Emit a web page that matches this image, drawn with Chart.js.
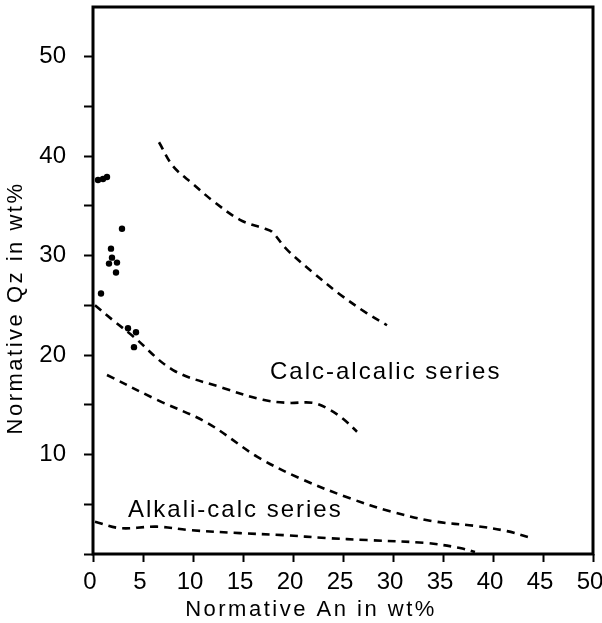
<!DOCTYPE html>
<html>
<head>
<meta charset="utf-8">
<script src="https://cdn.jsdelivr.net/npm/chart.js@4/dist/chart.umd.min.js"></script>
<style>
    body { margin: 0; background: #fff; }
    canvas { display: block; }
</style>
</head>
<body>
<canvas id="qzAnChart" width="602" height="623"></canvas>
<script>
// 시료 분석값 (Normative An, Normative Qz)
const sampleAn = [0.5, 1.0, 1.4, 2.9, 1.8, 1.9, 1.6, 2.4, 2.3, 0.8, 3.5, 4.3, 4.1];
const sampleQz = [37.6, 37.7, 37.9, 32.7, 30.7, 29.8, 29.2, 29.3, 28.3, 26.2, 22.7, 22.3, 20.8];

// Calc-alcalic 상한선
const calcUpperAn = [6.6, 8.0, 10.0, 12.0, 14.7, 17.2, 17.9, 19.4, 22.0, 24.7, 27.4, 29.4];
const calcUpperQz = [41.4, 39.0, 37.2, 35.5, 33.6, 32.7, 32.4, 30.6, 28.3, 26.1, 24.2, 23.0];

// Calc-alcalic 하한선
const calcLowerAn = [0.2, 2.0, 4.0, 8.0, 13.0, 17.0, 19.5, 22.0, 23.5, 25.0, 26.4];
const calcLowerQz = [25.0, 23.5, 21.9, 18.5, 16.7, 15.5, 15.2, 15.2, 14.6, 13.6, 12.3];

// Alkali-calc 상한선
const alkUpperAn = [1.4, 6.4, 11.4, 16.4, 20.7, 25.7, 29.7, 34.0, 38.4, 41.4, 43.9];
const alkUpperQz = [18.0, 15.5, 13.2, 9.8, 7.6, 5.6, 4.3, 3.3, 2.8, 2.3, 1.6];

// Alkali-calc 하한선
const alkLowerAn = [0.2, 2.7, 6.4, 9.7, 14.7, 19.0, 23.4, 27.4, 33.4, 36.7, 38.2];
const alkLowerQz = [3.25, 2.6, 2.75, 2.4, 2.1, 1.9, 1.6, 1.4, 1.1, 0.6, 0.2];

// 눈금
const xTickStep = 5;
const yTickStep = 5;
const yLabelValues = [10, 20, 30, 40, 50];

// 영역 라벨
const seriesLabels = ['Calc-alcalic series', 'Alkali-calc series'];
const seriesLabelAn = [17.7, 3.5];
const seriesLabelQz = [17.6, 3.7];

function toPoints(xs, ys) {
    return xs.map((x, i) => ({ x: x, y: ys[i] }));
}

function curve(xs, ys) {
    return {
        data: toPoints(xs, ys),
        showLine: true,
        borderColor: '#000',
        borderWidth: 2.6,
        borderDash: [8, 6],
        pointRadius: 0,
        tension: 0.35,
        fill: false
    };
}

const FONT = '"Liberation Sans", Arial, sans-serif';

// 테두리 + 라벨 그리기
const decorPlugin = {
    id: 'decor',
    afterDraw(chart) {
        const ctx = chart.ctx;
        const area = chart.chartArea;
        const xs = chart.scales.x;
        const ys = chart.scales.y;
        ctx.save();
        ctx.strokeStyle = '#000';
        ctx.lineWidth = 3;
        ctx.strokeRect(area.left, area.top, area.right - area.left, area.bottom - area.top);

        ctx.fillStyle = '#000';
        ctx.font = '24px ' + FONT;
        ctx.letterSpacing = '2px';
        ctx.textBaseline = 'alphabetic';
        ctx.textAlign = 'left';
        seriesLabels.forEach((txt, i) => {
            ctx.fillText(txt, xs.getPixelForValue(seriesLabelAn[i]), ys.getPixelForValue(seriesLabelQz[i]));
        });

        // 축 제목
        ctx.font = '22px ' + FONT;
        ctx.letterSpacing = '2.5px';
        ctx.textAlign = 'center';
        ctx.fillText('Normative An in wt%', 311, 616);

        ctx.translate(22, 308);
        ctx.rotate(-Math.PI / 2);
        ctx.fillText('Normative Qz in wt%', 0, 0);
        ctx.restore();
    }
};

document.addEventListener('DOMContentLoaded', function() {
    const ctx = document.getElementById('qzAnChart').getContext('2d');
    new Chart(ctx, {
        type: 'scatter',
        data: {
            datasets: [
                {
                    data: toPoints(sampleAn, sampleQz),
                    backgroundColor: '#000',
                    borderColor: '#000',
                    pointRadius: 3.2,
                    pointBorderWidth: 0
                },
                curve(calcUpperAn, calcUpperQz),
                curve(calcLowerAn, calcLowerQz),
                curve(alkUpperAn, alkUpperQz),
                curve(alkLowerAn, alkLowerQz)
            ]
        },
        options: {
            responsive: false,
            animation: false,
            layout: { padding: { top: 7, right: 9, left: 0, bottom: 0 } },
            plugins: {
                legend: { display: false },
                tooltip: { enabled: false }
            },
            scales: {
                x: {
                    type: 'linear',
                    min: 0,
                    max: 50,
                    border: { display: false },
                    grid: {
                        drawOnChartArea: false,
                        drawTicks: true,
                        tickLength: 8,
                        tickWidth: 2,
                        tickColor: '#000'
                    },
                    ticks: {
                        stepSize: xTickStep,
                        color: '#000',
                        padding: 6,
                        labelOffset: -3,
                        maxRotation: 0,
                        font: { family: FONT, size: 24 }
                    },
                    afterFit(scale) {
                        scale.height = 69;
                        scale.paddingLeft = 0;
                        scale.paddingRight = 0;
                    }
                },
                y: {
                    type: 'linear',
                    min: 0,
                    max: 55,
                    border: { display: false },
                    grid: {
                        drawOnChartArea: false,
                        drawTicks: true,
                        tickLength: 9,
                        tickWidth: 2,
                        tickColor: '#000'
                    },
                    ticks: {
                        stepSize: yTickStep,
                        color: '#000',
                        padding: 18,
                        font: { family: FONT, size: 24 },
                        callback: v => yLabelValues.includes(v) ? String(v) : ''
                    },
                    afterBuildTicks(scale) {
                        scale.ticks = scale.ticks.filter(t => t.value <= 50);
                    },
                    afterFit(scale) {
                        scale.width = 93;
                        scale.paddingTop = 0;
                        scale.paddingBottom = 0;
                    }
                }
            }
        },
        plugins: [decorPlugin]
    });
});
</script>
</body>
</html>
